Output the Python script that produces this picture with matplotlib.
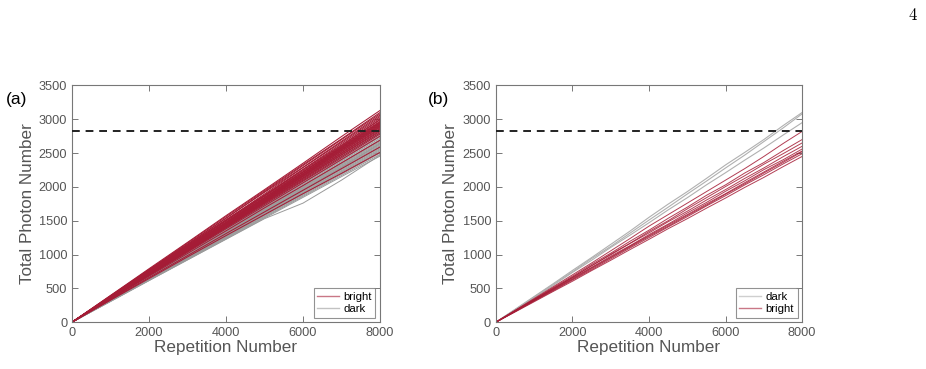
import numpy as np
import matplotlib
matplotlib.use("Agg")
import matplotlib.pyplot as plt

plt.rcParams["font.family"] = ["Liberation Sans", "DejaVu Sans"]
plt.rcParams["mathtext.fontset"] = "cm"

# ---- data ----
threshold = 2830

# panel (a): cumulative counts sampled every 1000 repetitions (0 prepended)
reps_a = [0, 1000, 2000, 3000, 4000, 5000, 6000, 7000, 8000]
bright_a = [
    [395, 790, 1180, 1575, 1960, 2350, 2745, 3130],
    [380, 775, 1170, 1560, 1945, 2330, 2710, 3100],
    [392, 778, 1150, 1535, 1930, 2315, 2700, 3080],
    [378, 770, 1155, 1540, 1920, 2290, 2675, 3060],
    [385, 765, 1135, 1510, 1895, 2285, 2660, 3040],
    [372, 752, 1140, 1515, 1880, 2260, 2640, 3020],
    [380, 755, 1120, 1495, 1870, 2255, 2620, 3000],
    [368, 745, 1125, 1500, 1870, 2240, 2610, 2990],
    [375, 740, 1110, 1480, 1860, 2225, 2600, 2970],
    [365, 742, 1105, 1475, 1845, 2215, 2590, 2960],
    [372, 735, 1108, 1470, 1840, 2220, 2580, 2950],
    [364, 738, 1100, 1468, 1838, 2200, 2575, 2940],
    [370, 730, 1095, 1460, 1825, 2195, 2565, 2930],
    [362, 728, 1098, 1455, 1820, 2190, 2555, 2920],
    [366, 725, 1090, 1450, 1818, 2180, 2548, 2910],
    [360, 722, 1085, 1452, 1810, 2170, 2540, 2900],
    [364, 720, 1080, 1440, 1800, 2165, 2528, 2890],
    [358, 718, 1082, 1435, 1795, 2158, 2520, 2880],
    [362, 715, 1072, 1430, 1790, 2150, 2505, 2865],
    [355, 710, 1068, 1425, 1780, 2135, 2495, 2850],
    [358, 712, 1060, 1415, 1772, 2128, 2480, 2835],
    [350, 705, 1058, 1410, 1765, 2115, 2470, 2820],
    [354, 700, 1050, 1400, 1755, 2100, 2450, 2800],
    [350, 695, 1045, 1395, 1740, 2085, 2430, 2780],
    [345, 690, 1035, 1380, 1720, 2060, 2405, 2750],
    [340, 680, 1015, 1350, 1690, 2020, 2355, 2690],
    [330, 660, 985, 1310, 1630, 1950, 2270, 2590],
    [325, 645, 965, 1280, 1590, 1900, 2200, 2510],
]
dark_a = [
    [355, 712, 1070, 1425, 1785, 2140, 2500, 2860],
    [350, 700, 1055, 1410, 1760, 2115, 2470, 2820],
    [340, 690, 1040, 1385, 1740, 2090, 2450, 2800],
    [345, 695, 1045, 1395, 1745, 2090, 2440, 2790],
    [343, 690, 1035, 1380, 1725, 2070, 2415, 2760],
    [340, 683, 1025, 1370, 1710, 2055, 2395, 2740],
    [338, 678, 1018, 1360, 1700, 2040, 2380, 2720],
    [336, 672, 1010, 1350, 1688, 2025, 2362, 2700],
    [333, 668, 1005, 1342, 1678, 2012, 2348, 2685],
    [332, 665, 1000, 1335, 1668, 2000, 2335, 2670],
    [330, 662, 995, 1328, 1660, 1990, 2322, 2655],
    [335, 670, 1000, 1320, 1640, 1960, 2290, 2640],
    [328, 658, 990, 1320, 1650, 1980, 2310, 2640],
    [327, 655, 985, 1312, 1640, 1968, 2296, 2625],
    [325, 652, 978, 1305, 1630, 1955, 2283, 2610],
    [323, 648, 972, 1298, 1620, 1945, 2270, 2595],
    [322, 645, 968, 1290, 1612, 1935, 2258, 2580],
    [320, 641, 962, 1282, 1602, 1922, 2243, 2565],
    [318, 638, 957, 1275, 1592, 1912, 2230, 2550],
    [316, 634, 950, 1268, 1585, 1900, 2218, 2535],
    [315, 630, 945, 1260, 1575, 1890, 2205, 2520],
    [313, 625, 938, 1250, 1562, 1875, 2188, 2500],
    [305, 615, 920, 1225, 1530, 1760, 2100, 2470],
    [310, 620, 930, 1240, 1550, 1860, 2170, 2480],
    [308, 615, 922, 1230, 1538, 1845, 2152, 2455],
]

# panel (b): sampled every 500 repetitions (0 prepended)
reps_b = list(range(0, 8001, 500))
dark_b = [
    [190, 380, 570, 765, 955, 1150, 1345, 1550, 1745, 1930, 2125, 2325, 2510, 2700, 2905, 3100],
    [185, 372, 560, 745, 940, 1120, 1315, 1510, 1700, 1895, 2085, 2280, 2470, 2670, 2870, 3080],
    [180, 362, 545, 735, 915, 1105, 1285, 1470, 1660, 1840, 2030, 2210, 2395, 2575, 2765, 2950],
]
bright_b = [
    [175, 350, 525, 700, 875, 1055, 1235, 1420, 1590, 1760, 1930, 2100, 2270, 2450, 2640, 2820],
    [170, 340, 512, 680, 855, 1020, 1195, 1360, 1535, 1700, 1875, 2030, 2205, 2360, 2535, 2700],
    [165, 332, 495, 665, 830, 1005, 1165, 1340, 1500, 1675, 1840, 2005, 2165, 2335, 2490, 2650],
    [168, 335, 502, 662, 838, 995, 1162, 1320, 1485, 1640, 1805, 1960, 2125, 2280, 2445, 2600],
    [162, 326, 490, 652, 810, 975, 1130, 1295, 1450, 1615, 1770, 1935, 2090, 2255, 2400, 2560],
    [160, 320, 482, 640, 803, 960, 1122, 1280, 1438, 1590, 1748, 1900, 2062, 2220, 2378, 2530],
    [158, 318, 475, 632, 790, 952, 1110, 1268, 1420, 1578, 1730, 1892, 2045, 2205, 2360, 2520],
    [155, 312, 465, 622, 775, 935, 1095, 1250, 1408, 1560, 1718, 1870, 2028, 2180, 2338, 2490],
    [150, 302, 455, 605, 762, 915, 1072, 1225, 1382, 1530, 1685, 1835, 1992, 2140, 2298, 2450],
]

red = "#A51C36"
grey = "#9A9A9A"
text_grey = "#555555"

fig = plt.figure(figsize=(9.26, 3.69), dpi=100)
ax_a = fig.add_axes([0.0778, 0.127, 0.3326, 0.6414])
ax_b = fig.add_axes([0.5356, 0.127, 0.3306, 0.6414])


def style(ax):
    ax.set_xlim(0, 8000)
    ax.set_ylim(0, 3500)
    ax.set_xticks([0, 2000, 4000, 6000, 8000])
    ax.set_yticks(np.arange(0, 3501, 500))
    ax.tick_params(direction="in", top=True, right=True, length=4, width=0.7,
                   labelsize=9.2, colors="#777777", labelcolor=text_grey)
    for sp in ax.spines.values():
        sp.set_color("#777777")
        sp.set_linewidth(0.8)
    ax.set_xlabel("Repetition Number", fontsize=12.3, color=text_grey, labelpad=1)
    ax.set_ylabel("Total Photon Number", fontsize=12.3, color=text_grey, labelpad=3)
    ax.axhline(threshold, color="#222222", lw=1.4, ls=(0, (4, 3)), zorder=5)


def add_legend(ax, handles, labels):
    leg = ax.legend(handles, labels, loc="lower right", fontsize=8.2,
                    frameon=True, fancybox=False, handlelength=1.9,
                    borderpad=0.3, labelspacing=0.2, handletextpad=0.4,
                    borderaxespad=0.4)
    leg.get_frame().set_edgecolor("#777777")
    leg.get_frame().set_linewidth(0.8)
    for h in leg.legend_handles:
        h.set_linewidth(1.0)
        h.set_alpha(0.6)


# panel (a)
for ys in dark_a:
    la_dark, = ax_a.plot(reps_a, [0] + ys, color=grey, lw=0.7)
for ys in bright_a:
    la_bright, = ax_a.plot(reps_a, [0] + ys, color=red, lw=0.75)
style(ax_a)
add_legend(ax_a, [la_bright, la_dark], ["bright", "dark"])

# panel (b)
for ys in dark_b:
    lb_dark, = ax_b.plot(reps_b, [0] + ys, color="#B0B0B0", lw=0.8)
for ys in bright_b:
    lb_bright, = ax_b.plot(reps_b, [0] + ys, color=red, lw=0.7, alpha=0.85)
style(ax_b)
add_legend(ax_b, [lb_dark, lb_bright], ["dark", "bright"])

fig.text(0.006, 1 - 100 / 369, "(a)", fontsize=12.5, va="center", ha="left")
fig.text(0.462, 1 - 100 / 369, "(b)", fontsize=12.5, va="center", ha="left")
fig.text(0.986, 1 - 15 / 369, r"$4$", fontsize=12, va="center", ha="center")

fig.savefig("out.png", dpi=100)
